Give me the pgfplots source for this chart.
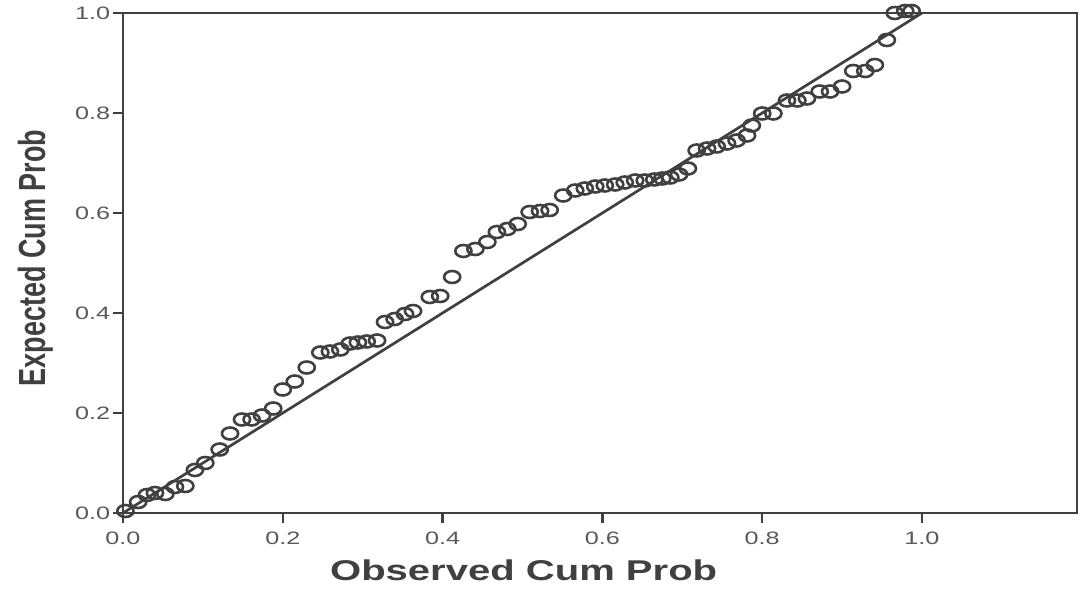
\documentclass[border=0pt]{standalone}
\usepackage{pgfplots}
\pgfplotsset{compat=1.18}
\usepackage{fontspec}
\setmainfont{Liberation Sans}
\definecolor{ink}{gray}{0.25}
\definecolor{tickc}{gray}{0.35}
\begin{document}
\begin{tikzpicture}
\useasboundingbox (-61.5pt,-38pt) rectangle (479.5pt,256.5pt);
\begin{axis}[
  scale only axis,
  width=477pt, height=250pt,
  xmin=0, xmax=1.194, ymin=0, ymax=1.0,
  xtick={0,0.2,0.4,0.6,0.8,1.0},
  ytick={0,0.2,0.4,0.6,0.8,1.0},
  xtick pos=left, ytick pos=left,
  tick align=outside,
  major tick length=5pt,
  axis line style={ink, line width=1.2pt},
  every tick/.style={ink, line width=1.2pt},
  /pgf/number format/assume math mode=true,
  /pgf/number format/.cd, fixed, fixed zerofill, precision=1,
  /pgfplots/.cd,
  tick label style={font=\fontsize{9}{10}\selectfont, text=tickc, xscale=1.4},
  xticklabel style={yshift=-1pt},
  yticklabel style={xshift=2.5pt},
  xlabel={Observed Cum Prob},
  ylabel={Expected Cum Prob},
  xlabel style={font=\bfseries\fontsize{14.3}{16}\selectfont, text=ink, xscale=1.4,
    at={(rel axis cs:0.42,0)}, anchor=north, yshift=-20pt},
  ylabel style={font=\bfseries\fontsize{13.5}{16}\selectfont, text=ink, yscale=1.4,
    at={(rel axis cs:-0.092,0.51)}, anchor=center},
  clip=false,
]
\addplot[ink, line width=1.35pt] coordinates {(0,0) (1,1)};
\addplot[only marks, mark=o, mark size=3pt,
  mark options={ink, line width=1.3pt, xscale=1.35}] coordinates {
(0.003,0.004) (0.019,0.022) (0.030,0.036) (0.040,0.040) (0.053,0.038)
(0.065,0.052) (0.078,0.054) (0.090,0.086) (0.103,0.100) (0.121,0.127)
(0.134,0.159) (0.149,0.187) (0.161,0.187) (0.174,0.195) (0.188,0.209)
(0.200,0.247) (0.215,0.263) (0.230,0.291) (0.247,0.321) (0.259,0.323)
(0.272,0.327) (0.284,0.339) (0.294,0.341) (0.305,0.343) (0.318,0.345)
(0.328,0.382) (0.340,0.388) (0.353,0.398) (0.363,0.404) (0.384,0.432)
(0.397,0.434) (0.412,0.472) (0.426,0.524) (0.441,0.528) (0.456,0.542)
(0.468,0.562) (0.481,0.568) (0.494,0.578) (0.509,0.602) (0.522,0.604)
(0.534,0.606) (0.551,0.635) (0.566,0.645) (0.578,0.649) (0.591,0.653)
(0.603,0.655) (0.616,0.657) (0.628,0.661) (0.641,0.665) (0.653,0.665)
(0.665,0.667) (0.675,0.669) (0.685,0.671) (0.696,0.677) (0.707,0.689)
(0.718,0.725) (0.731,0.729) (0.743,0.733) (0.756,0.739) (0.768,0.745)
(0.781,0.755) (0.787,0.775) (0.800,0.799) (0.814,0.799) (0.831,0.825)
(0.844,0.825) (0.856,0.829) (0.872,0.843) (0.885,0.843) (0.900,0.853)
(0.914,0.884) (0.929,0.884) (0.941,0.896) (0.956,0.946) (0.966,1.000)
(0.979,1.004) (0.987,1.004)
};
\end{axis}
\end{tikzpicture}
\end{document}
